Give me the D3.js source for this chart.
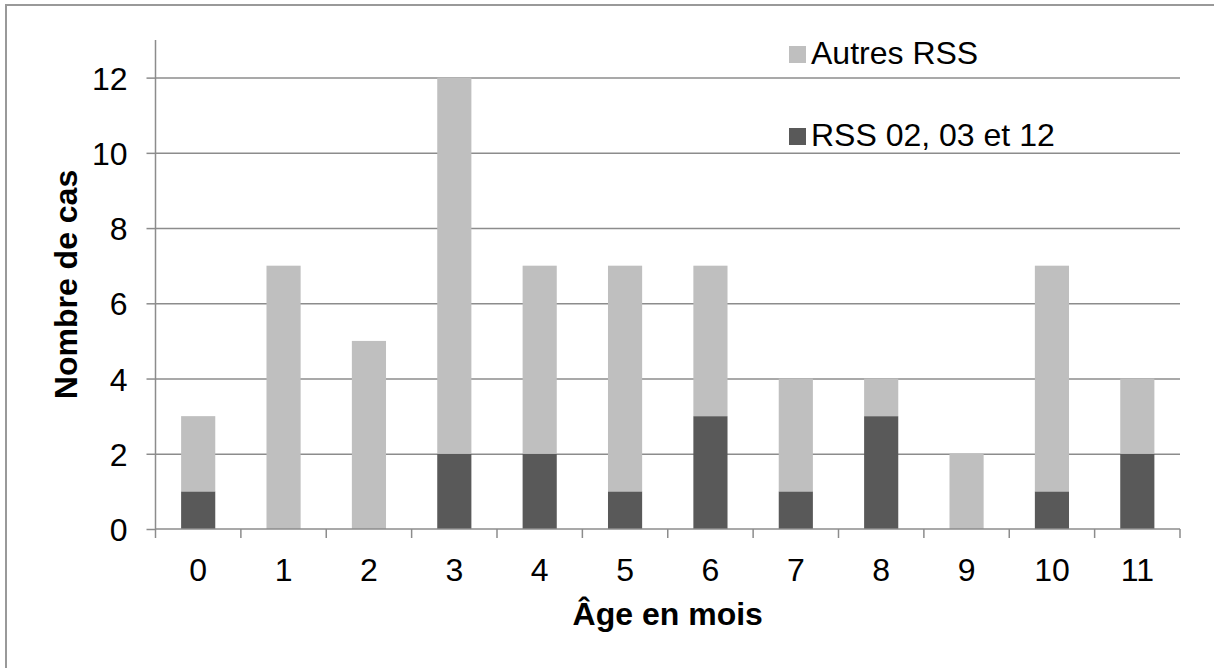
<!DOCTYPE html>
<html>
<head>
<meta charset="utf-8">
<script src="https://cdn.jsdelivr.net/npm/d3@7"></script>
<style>
  body { margin: 0; background: #fff; }
  svg { display: block; font-family: "Liberation Sans", Arial, sans-serif; }
  .axis path, .axis line { stroke: #8c8c8c; stroke-width: 1.5px; }
  .axis text { fill: #000; font-size: 32px; }
</style>
</head>
<body>
<script>
// months (age) on the x axis
var months = ['0', '1', '2', '3', '4', '5', '6', '7', '8', '9', '10', '11'];
// RSS 02, 03 et 12 (dark, bottom of stack)
var rssCible = [1, 0, 0, 2, 2, 1, 3, 1, 3, 0, 1, 2];
// Autres RSS (light, on top)
var rssAutres = [2, 7, 5, 10, 5, 6, 4, 3, 1, 2, 6, 2];
var yTicks = [0, 2, 4, 6, 8, 10, 12];
var seriesNames = ['Autres RSS', 'RSS 02, 03 et 12'];
var colors = { 'RSS 02, 03 et 12': '#595959', 'Autres RSS': '#bfbfbf' };

var W = 1214, H = 668;
var margin = { top: 40, right: 34, bottom: 139, left: 155.5 };
var width = W - margin.left - margin.right,
	height = H - margin.top - margin.bottom;

var svg = d3.select('body').append('svg')
	.attr('width', W)
	.attr('height', H);

// outer frame (right and bottom edges fall outside the picture)
svg.append('rect')
	.attr('x', 6).attr('y', 5)
	.attr('width', W + 10).attr('height', H + 10)
	.style('fill', 'none')
	.style('stroke', '#999')
	.style('stroke-width', 2);

var g = svg.append('g')
	.attr('transform', `translate(${margin.left}, ${margin.top})`);

var x = d3.scaleBand()
	.domain(months)
	.range([0, width])
	.paddingInner(0.6)
	.paddingOuter(0.3);

var y = d3.scaleLinear()
	.domain([0, 13])
	.range([height, 0]);

// gridlines
g.append('g')
	.classed('axis grid', true)
	.call(d3.axisLeft(y).tickValues(yTicks.slice(1)).tickSize(-width).tickFormat(''))
	.call(function(s) { s.select('.domain').remove(); });

// stacked data
var data = months.map(function(m, i) {
	return { month: m, 'RSS 02, 03 et 12': rssCible[i], 'Autres RSS': rssAutres[i] };
});
var stack = d3.stack().keys(['RSS 02, 03 et 12', 'Autres RSS'])(data);

g.selectAll('.serie')
	.data(stack)
	.enter().append('g')
	.classed('serie', true)
	.style('fill', function(d) { return colors[d.key]; })
	.selectAll('rect')
	.data(function(d) { return d; })
	.enter().append('rect')
	.attr('x', function(d) { return x(d.data.month); })
	.attr('width', x.bandwidth())
	.attr('y', function(d) { return y(d[1]); })
	.attr('height', function(d) { return y(d[0]) - y(d[1]); });

// y axis
var yAxis = g.append('g')
	.classed('axis', true)
	.call(d3.axisLeft(y).tickValues(yTicks).tickSize(9).tickPadding(19));
yAxis.select('.domain').attr('d', `M0,${height}V0`);
yAxis.selectAll('text').attr('dy', '0.36em');

// x axis: labels centered on bands, tick marks on band boundaries
var xAxis = g.append('g')
	.classed('axis', true)
	.attr('transform', `translate(0, ${height})`)
	.call(d3.axisBottom(x).tickSize(0).tickPadding(29));
xAxis.select('.domain').attr('d', `M0,0H${width}`);
xAxis.selectAll('text').attr('dy', '0.71em');

xAxis.selectAll('.bound')
	.data(d3.range(months.length + 1))
	.enter().append('line')
	.classed('bound', true)
	.attr('x1', function(d) { return d * x.step(); })
	.attr('x2', function(d) { return d * x.step(); })
	.attr('y1', 0)
	.attr('y2', 9);

// axis titles
g.append('text')
	.attr('x', width / 2)
	.attr('y', height + 96)
	.style('text-anchor', 'middle')
	.style('font-size', '32px')
	.style('font-weight', 'bold')
	.text('Âge en mois');

g.append('text')
	.attr('transform', `translate(-79, ${height / 2}) rotate(-90)`)
	.style('text-anchor', 'middle')
	.style('font-size', '32px')
	.style('font-weight', 'bold')
	.text('Nombre de cas');

// legend
var legend = svg.append('g')
	.attr('transform', 'translate(789, 0)');

var legendItems = legend.selectAll('.leg')
	.data(seriesNames)
	.enter().append('g')
	.classed('leg', true)
	.attr('transform', function(d, i) { return `translate(0, ${46 + i * 82})`; });

legendItems.append('rect')
	.attr('width', 17)
	.attr('height', 17)
	.style('fill', function(d) { return colors[d]; });

legendItems.append('text')
	.attr('x', 22)
	.attr('y', 18)
	.style('font-size', '32px')
	.text(function(d) { return d; });
</script>
</body>
</html>
